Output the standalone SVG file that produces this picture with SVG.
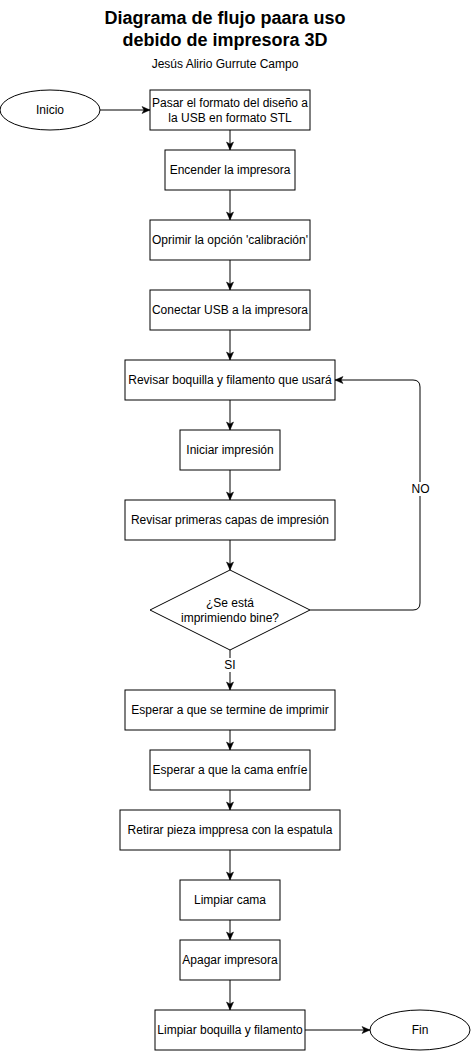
<svg xmlns="http://www.w3.org/2000/svg" width="471" height="1051" viewBox="0 0 471 1051">
<style>
.n{fill:#fff;stroke:#000;stroke-width:1}
.t{font-family:"Liberation Sans",Arial,sans-serif;font-size:12px;fill:#000;text-anchor:middle}
.c{fill:none;stroke:#000;stroke-width:1}
.ttl{font-family:"Liberation Sans",Arial,sans-serif;font-size:18px;font-weight:bold;fill:#000;text-anchor:middle}
</style>
<defs>
<marker id="arr" viewBox="0 0 10 8" refX="9" refY="4" markerWidth="10" markerHeight="8" markerUnits="userSpaceOnUse" orient="auto">
<path d="M1,0.5 L9,4 L1,7.5 L3,4 Z" fill="#000" stroke="#000" stroke-width="0.5"/>
</marker>
</defs>
<rect width="471" height="1051" fill="#fff"/>
<g id="title">
<text class="ttl" x="225" y="24">Diagrama de flujo paara uso</text>
<text class="ttl" x="225" y="45.5">debido de impresora 3D</text>
<text class="t" x="225" y="68">Jesús Alirio Gurrute Campo</text>
</g>
<g id="connectors">
<path class="c" d="M100,110 L150,110" marker-end="url(#arr)"/>
<path class="c" d="M230,130 L230,150" marker-end="url(#arr)"/>
<path class="c" d="M230,190 L230,220" marker-end="url(#arr)"/>
<path class="c" d="M230,260 L230,290" marker-end="url(#arr)"/>
<path class="c" d="M230,330 L230,360" marker-end="url(#arr)"/>
<path class="c" d="M230,400 L230,430" marker-end="url(#arr)"/>
<path class="c" d="M230,470 L230,500" marker-end="url(#arr)"/>
<path class="c" d="M230,540 L230,570" marker-end="url(#arr)"/>
<path class="c" d="M230,650 L230,690" marker-end="url(#arr)"/>
<path class="c" d="M230,730 L230,750" marker-end="url(#arr)"/>
<path class="c" d="M230,790 L230,810" marker-end="url(#arr)"/>
<path class="c" d="M230,850 L230,880" marker-end="url(#arr)"/>
<path class="c" d="M230,920 L230,940" marker-end="url(#arr)"/>
<path class="c" d="M230,980 L230,1010" marker-end="url(#arr)"/>
<path class="c" d="M305,1030 L370,1030" marker-end="url(#arr)"/>
<path class="c" d="M310,610 L413,610 Q420,610 420,603 L420,387 Q420,380 413,380 L335,380" marker-end="url(#arr)"/>
<rect x="221" y="658" width="18" height="14" fill="#fff"/>
<text class="t" x="230" y="669">SI</text>
<rect x="410" y="482" width="21" height="14" fill="#fff"/>
<text class="t" x="420.5" y="493">NO</text>
</g>
<g id="inicio"><ellipse class="n" cx="50" cy="110" rx="50" ry="20"/><text class="t" x="50" y="114">Inicio</text></g>
<g id="paso1"><rect class="n" x="150" y="90" width="160" height="40"/><text class="t" x="230" y="107">Pasar el formato del diseño a</text><text class="t" x="230" y="121.5">la USB en formato STL</text></g>
<g id="paso2"><rect class="n" x="165" y="150" width="130" height="40"/><text class="t" x="230" y="174">Encender la impresora</text></g>
<g id="paso3"><rect class="n" x="150" y="220" width="160" height="40"/><text class="t" x="230" y="244">Oprimir la opción 'calibración'</text></g>
<g id="paso4"><rect class="n" x="150" y="290" width="160" height="40"/><text class="t" x="230" y="314">Conectar USB a la impresora</text></g>
<g id="paso5"><rect class="n" x="125" y="360" width="210" height="40"/><text class="t" x="230" y="384">Revisar boquilla y filamento que usará</text></g>
<g id="paso6"><rect class="n" x="180" y="430" width="100" height="40"/><text class="t" x="230" y="454">Iniciar impresión</text></g>
<g id="paso7"><rect class="n" x="125" y="500" width="210" height="40"/><text class="t" x="230" y="524">Revisar primeras capas de impresión</text></g>
<g id="decision"><polygon class="n" points="230,570 310,610 230,650 150,610"/><text class="t" x="230" y="607">¿Se está</text><text class="t" x="230" y="621.5">imprimiendo bine?</text></g>
<g id="paso8"><rect class="n" x="125" y="690" width="210" height="40"/><text class="t" x="230" y="714">Esperar a que se termine de imprimir</text></g>
<g id="paso9"><rect class="n" x="150" y="750" width="160" height="40"/><text class="t" x="230" y="774">Esperar a que la cama enfríe</text></g>
<g id="paso10"><rect class="n" x="120" y="810" width="220" height="40"/><text class="t" x="230" y="834">Retirar pieza imppresa con la espatula</text></g>
<g id="paso11"><rect class="n" x="180" y="880" width="100" height="40"/><text class="t" x="230" y="904">Limpiar cama</text></g>
<g id="paso12"><rect class="n" x="180" y="940" width="100" height="40"/><text class="t" x="230" y="964">Apagar impresora</text></g>
<g id="paso13"><rect class="n" x="155" y="1010" width="150" height="40"/><text class="t" x="230" y="1034">Limpiar boquilla y filamento</text></g>
<g id="fin"><ellipse class="n" cx="420" cy="1030" rx="50" ry="20"/><text class="t" x="420" y="1034">Fin</text></g>
</svg>
